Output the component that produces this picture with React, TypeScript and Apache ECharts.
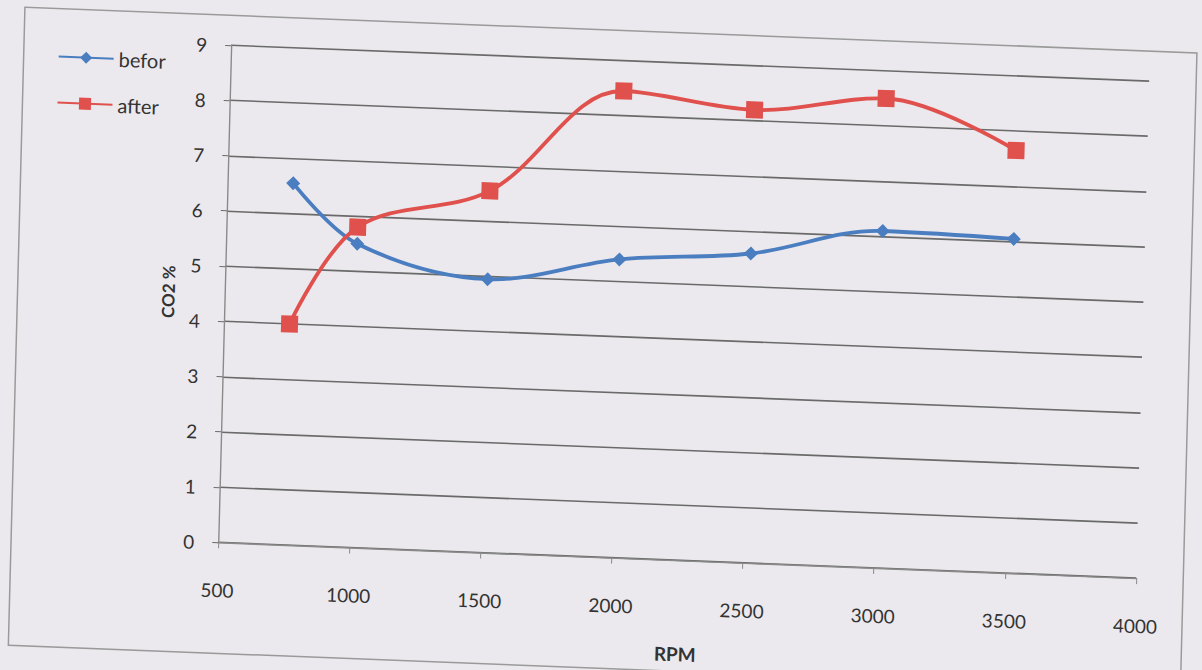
import React, { useEffect, useRef } from "react";
import * as echarts from "echarts";

// Data
const rpm = [750, 1000, 1500, 2000, 2500, 3000, 3500];
const befor = [6.55, 5.5, 4.95, 5.4, 5.6, 6.1, 6.05];
const after = [4.0, 5.8, 6.55, 8.45, 8.2, 8.5, 7.65];
const seriesNames = ["befor", "after"];
const xAxisTitle = "RPM";
const yAxisTitle = "CO2 %";

const FONT = "Lato, 'Open Sans', sans-serif";

export default function App() {
  const ref = useRef<HTMLDivElement>(null);

  useEffect(() => {
    if (!ref.current) return;
    const chart = echarts.init(ref.current, undefined, { renderer: "svg" });
    const pair = (ys: number[]) => rpm.map((x, i) => [x, ys[i]]);
    chart.setOption({
      animation: false,
      backgroundColor: "transparent",
      textStyle: { fontFamily: FONT },
      grid: { left: 224, top: 60, width: 918, height: 497, containLabel: false },
      legend: {
        orient: "vertical",
        left: 46,
        top: 63,
        itemWidth: 55,
        itemHeight: 15,
        itemGap: 26,
        data: seriesNames,
        textStyle: { fontSize: 20, color: "#333333", fontFamily: FONT },
      },
      xAxis: {
        type: "value",
        min: 500,
        max: 4000,
        interval: 500,
        name: xAxisTitle,
        nameLocation: "middle",
        nameGap: 84,
        nameTextStyle: { fontSize: 19, fontWeight: "bold", color: "#333333", fontFamily: FONT },
        axisLine: { show: true, lineStyle: { color: "#8a8a8a", width: 1.4 } },
        axisTick: { show: true, length: 6, lineStyle: { color: "#8a8a8a" } },
        axisLabel: {
          fontSize: 19,
          color: "#333333",
          margin: 38,
          fontFamily: FONT,
          formatter: (v: number) => String(v),
        },
        splitLine: { show: false },
      },
      yAxis: {
        type: "value",
        min: 0,
        max: 9,
        interval: 1,
        name: yAxisTitle,
        nameLocation: "middle",
        nameGap: 48,
        nameTextStyle: { fontSize: 17, fontWeight: "bold", color: "#333333", fontFamily: FONT },
        axisLine: { show: true, lineStyle: { color: "#8a8a8a", width: 1.4 } },
        axisTick: { show: true, length: 6, lineStyle: { color: "#6b6b6b" } },
        axisLabel: {
          fontSize: 19,
          color: "#333333",
          margin: 24,
          fontFamily: FONT,
          formatter: (v: number) => String(v),
        },
        splitLine: { show: true, lineStyle: { color: "#6a6a6a", width: 1.6 } },
      },
      graphic: [
        {
          type: "rect",
          shape: { x: 17, y: 30, width: 1172, height: 638 },
          style: { fill: "none", stroke: "#9a9a9a", lineWidth: 1.5 },
          silent: true,
        },
      ],
      series: [
        {
          name: seriesNames[0],
          type: "line",
          data: pair(befor),
          smooth: 0.35,
          symbol: "diamond",
          symbolSize: 14,
          lineStyle: { color: "#4a7ec0", width: 3.8 },
          itemStyle: { color: "#4a7ec0" },
        },
        {
          name: seriesNames[1],
          type: "line",
          data: pair(after),
          smooth: 0.35,
          symbol: "rect",
          symbolSize: 17,
          lineStyle: { color: "#e0504d", width: 3.8 },
          itemStyle: { color: "#e0504d" },
        },
      ],
    });
    return () => chart.dispose();
  }, []);

  return (
    <div
      style={{
        position: "fixed",
        left: 0,
        top: 0,
        width: 1202,
        height: 670,
        background: "#ebe9ed",
        overflow: "hidden",
      }}
    >
      <div
        ref={ref}
        style={{
          position: "absolute",
          left: 0,
          top: 0,
          width: 1202,
          height: 670,
          transform: "matrix(1, 0.039, -0.026, 1, 0, 0)",
          transformOrigin: "50% 50%",
        }}
      />
    </div>
  );
}
